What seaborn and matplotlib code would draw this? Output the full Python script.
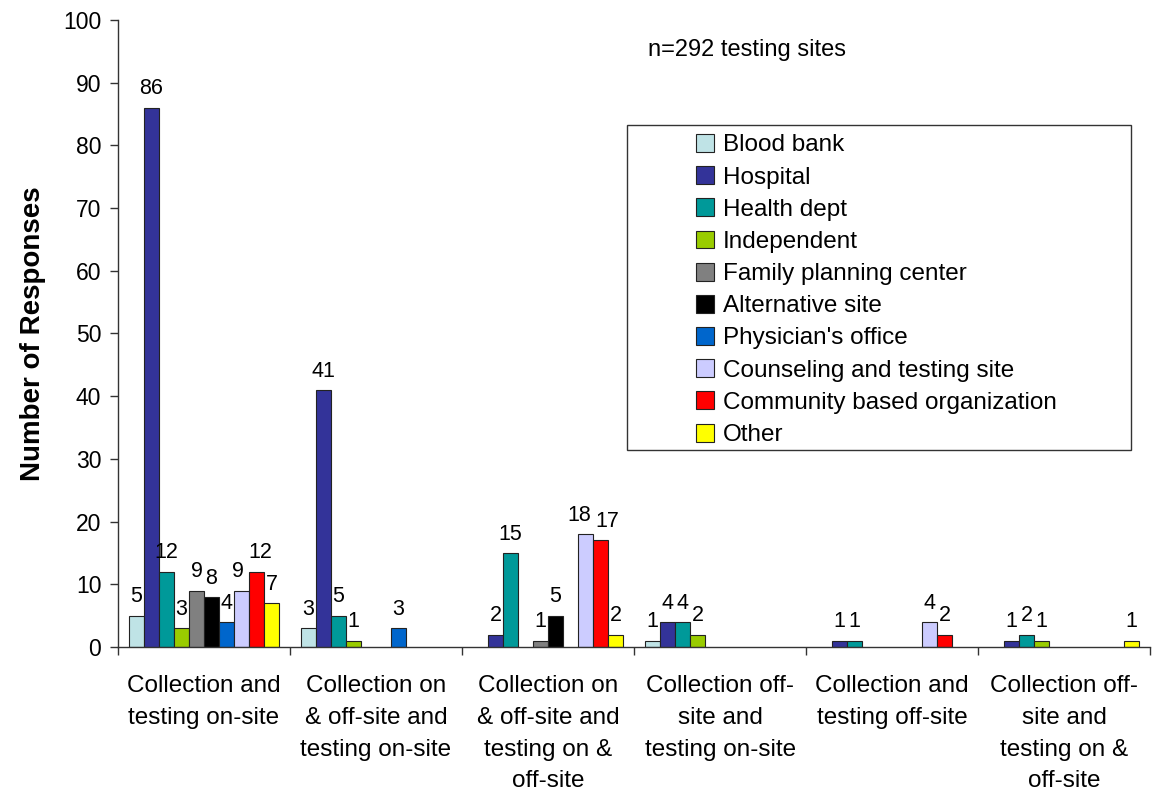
import matplotlib
matplotlib.use("Agg")
import matplotlib.pyplot as plt
from matplotlib.patches import Rectangle
import seaborn as sns
import pandas as pd

categories = [
    "Collection and\ntesting on-site",
    "Collection on\n& off-site and\ntesting on-site",
    "Collection on\n& off-site and\ntesting on &\noff-site",
    "Collection off-\nsite and\ntesting on-site",
    "Collection and\ntesting off-site",
    "Collection off-\nsite and\ntesting on &\noff-site",
]
site_types = ["Blood bank", "Hospital", "Health dept", "Independent",
              "Family planning center", "Alternative site", "Physician's office",
              "Counseling and testing site", "Community based organization", "Other"]

blood_bank = [5, 3, 0, 1, 0, 0]
hospital = [86, 41, 2, 4, 1, 1]
health_dept = [12, 5, 15, 4, 1, 2]
independent = [3, 1, 0, 2, 0, 1]
family_planning = [9, 0, 1, 0, 0, 0]
alternative = [8, 0, 5, 0, 0, 0]
physician = [4, 3, 0, 0, 0, 0]
counseling = [9, 0, 18, 0, 4, 0]
cbo = [12, 0, 17, 0, 2, 0]
other = [7, 0, 2, 0, 0, 1]

series = [blood_bank, hospital, health_dept, independent, family_planning,
          alternative, physician, counseling, cbo, other]
colors = ["#BFE3E6", "#333399", "#009999", "#99CC00", "#808080",
          "#000000", "#0066CC", "#CCCCFF", "#FF0000", "#FFFF00"]

rows = []
for name, vals in zip(site_types, series):
    for cat, v in zip(categories, vals):
        if v > 0:
            rows.append({"category": cat, "site": name, "value": v})
df = pd.DataFrame(rows)

sns.set_style("white")
plt.rcParams["font.family"] = ["Liberation Sans", "DejaVu Sans"]
for k in ["text.color", "axes.labelcolor", "xtick.color", "ytick.color"]:
    plt.rcParams[k] = "black"

fig = plt.figure(figsize=(11.52, 7.92), dpi=100)
ax = fig.add_axes([0.1024, 0.183, 0.896, 0.792])

sns.barplot(data=df, x="category", y="value", hue="site", order=categories,
            hue_order=site_types, palette=dict(zip(site_types, colors)),
            width=0.872, dodge=True, edgecolor="#222222", linewidth=0.8,
            saturation=1, ax=ax, legend=True)

all_labels = []
for cont in ax.containers:
    labels = [f"{int(round(b.get_height()))}" for b in cont]
    texts = ax.bar_label(cont, labels=labels, padding=6, fontsize=15.5)
    for b, t in zip(cont, texts):
        all_labels.append((b, t))

# nudge horizontally adjacent labels of similar height apart so they don't collide
fig.canvas.draw()
renderer = fig.canvas.get_renderer()
all_labels.sort(key=lambda bt: bt[0].get_x())
for (b1, t1), (b2, t2) in zip(all_labels, all_labels[1:]):
    bb1 = t1.get_window_extent(renderer)
    bb2 = t2.get_window_extent(renderer)
    if bb1.overlaps(bb2):
        ov = (bb1.x1 - bb2.x0) / 2 + 2
        x1, y1 = t1.xyann
        x2, y2 = t2.xyann
        t1.xyann = (x1 - ov * 0.72, y1)
        t2.xyann = (x2 + ov * 0.72, y2)

ax.set_ylim(0, 100)
ax.set_xlim(-0.5, len(categories) - 0.5)
ax.set_yticks(range(0, 101, 10))
ax.tick_params(axis="y", labelsize=16.5, length=6, width=1, direction="out",
               left=True, color="#333333", pad=6)
ax.set_xticks(range(len(categories)))
ax.set_xticklabels(categories, fontsize=17.5, linespacing=1.58)
ax.tick_params(axis="x", length=0, pad=20)
ax.set_xticks([i + 0.5 for i in range(-1, len(categories))], minor=True)
ax.tick_params(axis="x", which="minor", length=6, width=1, direction="out",
               bottom=True, color="#333333")
ax.set_xlabel("")
ax.set_ylabel("Number of Responses", fontsize=20, fontweight="bold", labelpad=12)

for s in ["top", "right"]:
    ax.spines[s].set_visible(False)
for s in ["left", "bottom"]:
    ax.spines[s].set_color("#333333")
    ax.spines[s].set_linewidth(1)

ax.text(0.5136, 0.952, "n=292 testing sites", transform=ax.transAxes, fontsize=17,
        ha="left", va="center")

# legend frame drawn separately (reference has a wide left margin inside the box)
W, H = 1152, 792
ax_l, ax_b = 0.1024 * W, 0.183 * H
ax_w, ax_h = 0.896 * W, 0.792 * H
def px_to_ax(px, py):
    return ((px - ax_l) / ax_w, ((H - py) - ax_b) / ax_h)

x0, y0 = px_to_ax(627, 450)
x1, y1 = px_to_ax(1131, 125)
ax.add_patch(Rectangle((x0, y0), x1 - x0, y1 - y0, transform=ax.transAxes,
                       facecolor="white", edgecolor="#333333", linewidth=1, zorder=5))

lx, ly = px_to_ax(696, 134)
leg = ax.legend(loc="upper left", bbox_to_anchor=(lx, ly), fontsize=17.5,
                frameon=False, handlelength=0.76, handleheight=0.76, handletextpad=0.35,
                labelspacing=0.40, borderpad=0, borderaxespad=0)
leg.set_zorder(6)

fig.savefig("out.png", dpi=100, facecolor="white")
